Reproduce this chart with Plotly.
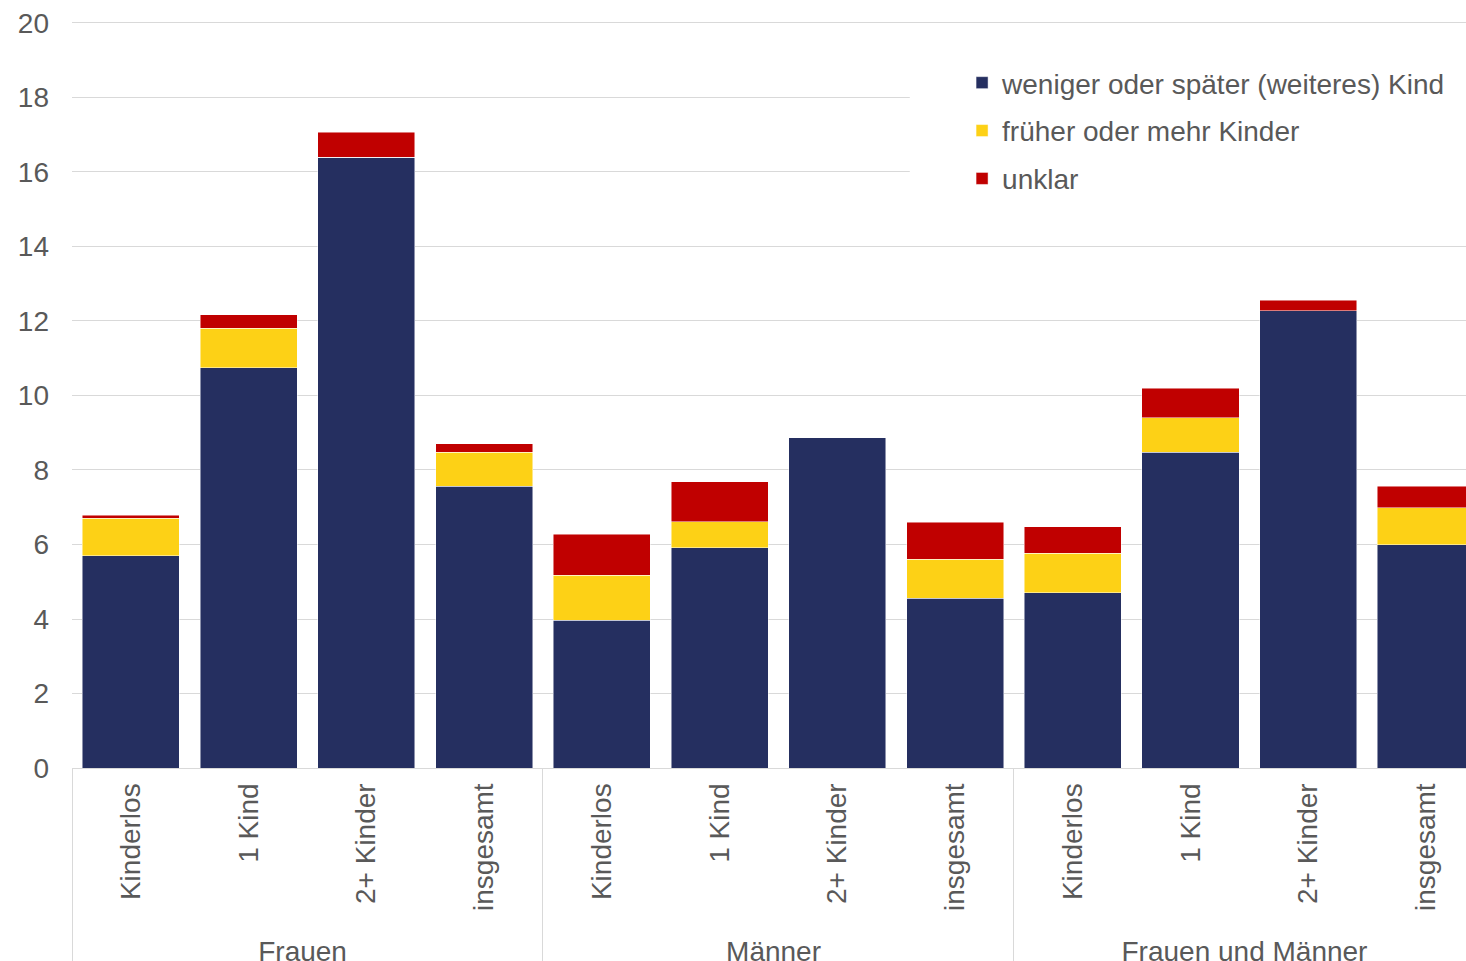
import plotly.graph_objects as go

# Gruppen und Kategorien
gruppen = ["Frauen"] * 4 + ["Männer"] * 4 + ["Frauen und Männer"] * 4
kategorien = ["Kinderlos", "1 Kind", "2+ Kinder", "insgesamt"] * 3

# Anteile in Prozent
weniger_spaeter = [5.70, 10.75, 16.40, 7.57, 3.97, 5.91, 8.87, 4.56, 4.70, 8.48, 12.27, 5.99]
frueher_mehr = [1.00, 1.05, 0.00, 0.91, 1.21, 0.70, 0.00, 1.05, 1.07, 0.92, 0.00, 0.99]
unklar = [0.08, 0.37, 0.67, 0.22, 1.10, 1.08, 0.00, 0.99, 0.70, 0.80, 0.29, 0.59]

serien = [
    ("weniger oder später (weiteres) Kind", weniger_spaeter, "#252F60"),
    ("früher oder mehr Kinder", frueher_mehr, "#FDD116"),
    ("unklar", unklar, "#C00000"),
]

TEXT = "#595959"
GRID = "#D9D9D9"
FONT = "Liberation Sans, Arial, sans-serif"

fig = go.Figure()
for i, (name, werte, farbe) in enumerate(serien):
    fig.add_trace(go.Bar(
        x=[gruppen, kategorien],
        y=werte,
        name=name,
        marker=dict(color=farbe, line=dict(color="rgba(255,255,255,0.6)", width=0.8)),
        legendgroup=str(i),
    ))

# white panel behind the legend, covering the gridlines there
fig.add_shape(type="rect", xref="paper", yref="paper",
              x0=0.601, x1=1.0, y0=0.75, y1=0.95,
              fillcolor="white", line=dict(width=0), layer="above")

fig.update_layout(
    width=1466, height=961,
    barmode="stack", bargap=0.176,
    margin=dict(l=72, r=0, t=19, b=193),
    paper_bgcolor="white", plot_bgcolor="white",
    font=dict(family=FONT, size=28, color=TEXT),
    legend=dict(
        x=0.6385, y=0.948, xanchor="left", yanchor="top",
        bgcolor="rgba(0,0,0,0)", font=dict(size=28, color=TEXT),
        traceorder="grouped", tracegroupgap=8.5, itemwidth=30,
    ),
    showlegend=True,
)

fig.update_yaxes(
    range=[0, 20.107], dtick=2, showgrid=True, gridcolor=GRID, gridwidth=1.3,
    zeroline=False, showline=False, automargin=False,
    tickfont=dict(size=28, color=TEXT), ticklabelstandoff=22,
)
fig.update_xaxes(
    type="multicategory", tickangle=-90, range=[-0.5, 11.34],
    showline=True, linecolor=GRID, linewidth=1.3, automargin=False,
    showdividers=True, dividercolor=GRID, dividerwidth=1.3,
    tickfont=dict(size=28, color=TEXT), showgrid=False, ticklabelstandoff=3,
)

fig.write_html("out.html")
